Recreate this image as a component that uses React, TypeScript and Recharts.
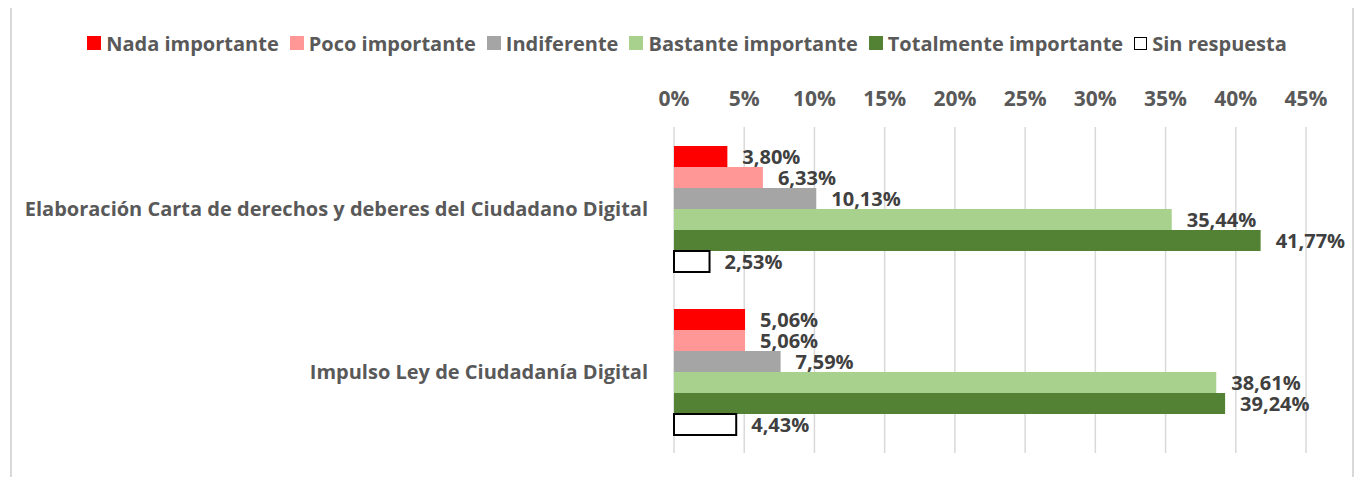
import React from 'react';
import { BarChart, Bar, XAxis, YAxis, CartesianGrid, Legend, LabelList } from 'recharts';

const categories = [
  'Elaboración Carta de derechos y deberes del Ciudadano Digital',
  'Impulso Ley de Ciudadanía Digital',
];
const seriesNames = [
  'Nada importante',
  'Poco importante',
  'Indiferente',
  'Bastante importante',
  'Totalmente importante',
  'Sin respuesta',
];
const nada = [3.8, 5.06];
const poco = [6.33, 5.06];
const indiferente = [10.13, 7.59];
const bastante = [35.44, 38.61];
const totalmente = [41.77, 39.24];
const sinRespuesta = [2.53, 4.43];
const xTicks = [0, 5, 10, 15, 20, 25, 30, 35, 40, 45];

const seriesValues = [nada, poco, indiferente, bastante, totalmente, sinRespuesta];
const keys = ['s0', 's1', 's2', 's3', 's4', 's5'];
const fills = ['#FF0000', '#FF9797', '#A5A5A5', '#A9D18E', '#548235', '#FFFFFF'];
const strokes = ['none', 'none', 'none', 'none', 'none', '#000000'];

const data = categories.map((name, i) => {
  const row: any = { name };
  keys.forEach((k, j) => (row[k] = seriesValues[j][i]));
  return row;
});

const FONT = '"Open Sans", Lato, sans-serif';
const fmt = (v: any) => Number(v).toFixed(2).replace('.', ',') + '%';

const LegendContent = () => (
  <div
    style={{
      height: 60,
      display: 'flex',
      justifyContent: 'center',
      alignItems: 'center',
      fontFamily: FONT,
      fontWeight: 700,
      fontSize: 20,
      color: '#595959',
      gap: 11,
      paddingLeft: 68,
    }}
  >
    {seriesNames.map((n, i) => (
      <div key={n} style={{ display: 'flex', alignItems: 'center' }}>
        <span
          style={{
            display: 'inline-block',
            width: i === 5 ? 11 : 14,
            height: i === 5 ? 11 : 14,
            background: fills[i],
            border: i === 5 ? '1.5px solid #000' : 'none',
            marginRight: 5,
          }}
        />
        <span>{n}</span>
      </div>
    ))}
  </div>
);

export default function App() {
  return (
    <div style={{ position: 'relative', width: 1346, height: 469 }}>
      <div
        style={{
          position: 'absolute',
          left: 2,
          top: -3,
          width: 1344,
          height: 480,
          borderTop: '2px solid #d9d9d9',
          borderLeft: '2px solid #d9d9d9',
          borderRight: '2px solid #d9d9d9',
          boxSizing: 'border-box',
        }}
      />
      <div style={{ position: 'absolute', left: -8, top: -8 }}>
        <BarChart
          width={1362}
          height={477}
          data={data}
          layout="vertical"
          margin={{ top: 10, right: 56, bottom: 24, left: 0 }}
          barGap={0}
          barSize={21}
        >
          <Legend verticalAlign="top" content={<LegendContent />} wrapperStyle={{ top: 13 }} />
          <CartesianGrid horizontal={false} stroke="#d9d9d9" strokeWidth={1.5} />
          <XAxis
            type="number"
            orientation="top"
            domain={[0, 45]}
            ticks={xTicks}
            tickFormatter={(v) => v + '%'}
            axisLine={false}
            tickLine={false}
            tickSize={0}
            tickMargin={21}
            height={57}
            interval={0}
            tick={{ fill: '#595959', fontSize: 21, fontWeight: 700, fontFamily: FONT }}
          />
          <YAxis
            type="category"
            dataKey="name"
            width={674}
            axisLine={false}
            tickLine={false}
            tickSize={0}
            tickMargin={26}
            tick={{ fill: '#595959', fontSize: 20, fontWeight: 700, fontFamily: FONT }}
          />
          {keys.map((k, i) => (
            <Bar
              key={k}
              dataKey={k}
              name={seriesNames[i]}
              fill={fills[i]}
              stroke={strokes[i]}
              strokeWidth={i === 5 ? 2 : 0}
              isAnimationActive={false}
            >
              <LabelList
                dataKey={k}
                position="right"
                offset={15}
                formatter={fmt}
                style={{ fill: '#404040', fontSize: 20, fontWeight: 700, fontFamily: FONT }}
              />
            </Bar>
          ))}
        </BarChart>
      </div>
    </div>
  );
}
